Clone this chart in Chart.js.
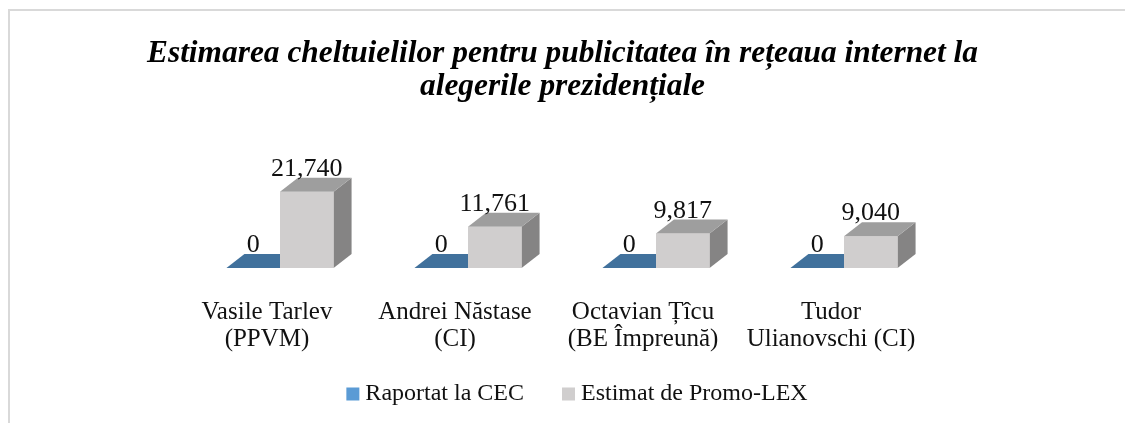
<!DOCTYPE html>
<html>
<head>
<meta charset="utf-8">
<script src="https://cdn.jsdelivr.net/npm/chart.js@4"></script>
<style>
  html, body { margin: 0; padding: 0; background: #fff; }
  #wrap { position: relative; width: 1125px; height: 423px; overflow: hidden; }
  #frame { position: absolute; left: 8px; top: 9px; width: 1200px; height: 500px; border: 2px solid #d9d9d9; }
  canvas { position: absolute; left: 0; top: 0; }
</style>
</head>
<body>
<div id="wrap">
  <div id="frame"></div>
  <canvas id="chart" width="1125" height="423"></canvas>
</div>
<script>
const titleLines = ['Estimarea cheltuielilor pentru publicitatea în rețeaua internet la', 'alegerile prezidențiale'];
const categories = [
    ['Vasile Tarlev', '(PPVM)'],
    ['Andrei Năstase', '(CI)'],
    ['Octavian Țîcu', '(BE Împreună)'],
    ['Tudor', 'Ulianovschi (CI)'],
];
const reported = [0, 0, 0, 0];
const estimated = [21740, 11761, 9817, 9040];

const serif = '"Liberation Serif", serif';
const depthX = 18;
const depthY = 14;
const topColors = ['#41719c', '#9e9e9e'];
const sideColors = ['#41719c', '#858484'];

// Chart.js has no 3D bars, so the top and side faces are added on each bar
const bars3d = {
    id: 'bars3d',
    afterLayout(chart) {
        // the side padding would otherwise squeeze the title to the plot width
        chart.titleBlock.left = 0;
        chart.titleBlock.right = chart.width;
    },
    afterDatasetsDraw(chart) {
        const ctx = chart.ctx;
        chart.data.datasets.forEach((ds, i) => {
            chart.getDatasetMeta(i).data.forEach(bar => {
                const left = bar.x - bar.width / 2;
                const right = bar.x + bar.width / 2;
                ctx.fillStyle = sideColors[i];
                ctx.beginPath();
                ctx.moveTo(right, bar.base);
                ctx.lineTo(right + depthX, bar.base - depthY);
                ctx.lineTo(right + depthX, bar.y - depthY);
                ctx.lineTo(right, bar.y);
                ctx.fill();
                ctx.fillStyle = topColors[i];
                ctx.beginPath();
                ctx.moveTo(left, bar.y);
                ctx.lineTo(left + depthX, bar.y - depthY);
                ctx.lineTo(right + depthX, bar.y - depthY);
                ctx.lineTo(right, bar.y);
                ctx.fill();
            });
        });
        // the grey bar stands in front of the blue one
        chart.getDatasetMeta(1).data.forEach(bar => {
            ctx.fillStyle = chart.data.datasets[1].backgroundColor;
            ctx.fillRect(bar.x - bar.width / 2, bar.y, bar.width, bar.base - bar.y);
        });
        ctx.fillStyle = '#111';
        ctx.font = '26px ' + serif;
        ctx.textAlign = 'center';
        ctx.textBaseline = 'alphabetic';
        chart.data.datasets.forEach((ds, i) => {
            chart.getDatasetMeta(i).data.forEach((bar, j) => {
                ctx.fillText(ds.data[j].toLocaleString('en-US'), bar.x, bar.y - 16);
            });
        });
    }
};

// the built-in legend keeps too wide a gap after the box, so it is drawn here
const legendRow = {
    id: 'legendRow',
    afterDraw(chart) {
        const ctx = chart.ctx;
        const box = 13, gap = 6, between = 38, centerX = 577, y = 394;
        ctx.font = '24px ' + serif;
        ctx.textAlign = 'left';
        ctx.textBaseline = 'middle';
        const sets = chart.data.datasets;
        const widths = sets.map(ds => ctx.measureText(ds.label).width);
        const total = widths.reduce((a, w) => a + w + box + gap, 0) + between * (sets.length - 1);
        let x = centerX - total / 2;
        sets.forEach((ds, i) => {
            ctx.fillStyle = ds.backgroundColor;
            ctx.fillRect(x, y - box / 2, box, box);
            ctx.fillStyle = '#111';
            ctx.fillText(ds.label, x + box + gap, y);
            x += box + gap + widths[i] + between;
        });
    }
};

new Chart(document.getElementById('chart'), {
    type: 'bar',
    data: {
        labels: categories,
        datasets: [
            { label: 'Raportat la CEC', data: reported, backgroundColor: '#5b9bd5', borderWidth: 0 },
            { label: 'Estimat de Promo-LEX', data: estimated, backgroundColor: '#d0cece', borderWidth: 0 },
        ],
    },
    options: {
        responsive: false,
        animation: false,
        layout: { padding: { left: 186, right: 187, top: 37, bottom: 47 } },
        categoryPercentage: 0.57,
        barPercentage: 1,
        scales: {
            x: {
                grid: { display: false },
                border: { display: false },
                ticks: {
                    color: '#111',
                    font: { family: serif, size: 25, lineHeight: 1.08 },
                    padding: 23,
                    labelOffset: -13,
                    maxRotation: 0,
                    autoSkip: false,
                },
            },
            y: { display: false, min: 0, max: 30000 },
        },
        plugins: {
            title: {
                display: true,
                text: titleLines,
                color: '#000',
                font: { family: serif, size: 31.4, weight: 'bold', style: 'italic', lineHeight: 1.05 },
                padding: { top: 0, bottom: 60 },
            },
            legend: { display: false },
            tooltip: { enabled: false },
        },
    },
    plugins: [bars3d, legendRow],
});
</script>
</body>
</html>
